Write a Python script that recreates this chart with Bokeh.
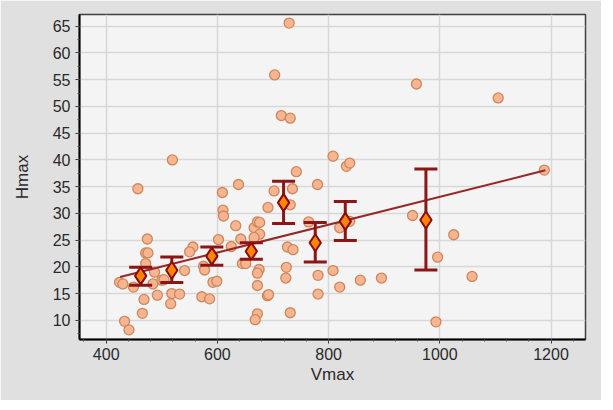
from bokeh.plotting import figure
from bokeh.models import Range1d, SingleIntervalTicker, ColumnDataSource
from bokeh.embed import file_html
from bokeh.resources import INLINE

# ---- data ----
vmax = [729, 703, 958, 1105, 715, 731, 808, 519, 832, 838, 742, 1188, 457, 638, 780,
        609, 702, 735, 731, 610, 611, 691, 951, 633, 666, 672, 676, 764, 820, 838,
        602, 642, 474, 676, 666, 1025, 471, 475, 556, 550, 625, 726, 736, 471, 487,
        541, 575, 577, 724, 675, 672, 808, 781, 996, 1058, 895, 857, 723, 592, 599,
        820, 672, 424, 430, 449, 484, 500, 504, 518, 532, 492, 468, 572, 586, 690,
        692, 781, 516, 731, 465, 672, 668, 993, 433, 441, 645, 651]
hmax = [65.6, 55.9, 54.2, 51.6, 48.3, 47.8, 40.7, 40.0, 38.8, 39.4, 37.8, 38.1, 34.6, 35.4, 35.4,
        33.9, 34.2, 34.6, 31.6, 30.6, 29.5, 31.1, 29.6, 27.7, 27.3, 28.4, 28.3, 28.4, 27.3, 28.5,
        25.1, 25.2, 25.2, 26.1, 25.5, 26.0, 22.6, 22.6, 23.7, 22.8, 23.8, 23.7, 23.2, 20.6, 19.0,
        19.3, 20.1, 19.4, 19.9, 19.5, 18.8, 19.3, 18.4, 21.8, 18.2, 17.9, 17.5, 17.9, 17.1, 17.3,
        16.2, 16.5, 17.1, 16.8, 16.2, 16.8, 17.5, 17.6, 15.0, 14.9, 14.7, 13.9, 14.4, 14.0, 14.6,
        14.8, 14.9, 13.1, 11.4, 11.3, 11.2, 10.1, 9.7, 9.8, 8.2, 20.6, 20.6]

grp_v = [462, 518, 590, 661, 719, 776, 830, 975]
grp_mean = [18.3, 19.35, 22.0, 22.9, 32.0, 24.5, 28.5, 28.75]
grp_upper = [19.9, 21.85, 23.7, 24.5, 36.0, 28.3, 32.2, 38.3]
grp_lower = [16.55, 17.05, 20.3, 21.4, 28.1, 20.9, 24.9, 19.4]

fit_v = [425, 1190]
fit_h = [18.1, 38.05]

# ---- figure ----
p = figure(width=601, height=400, output_backend="svg", toolbar_location=None,
           x_range=Range1d(352, 1262), y_range=Range1d(6.4, 67.2),
           min_border_left=79, min_border_right=16, min_border_top=14, min_border_bottom=61,
           x_axis_label="Vmax", y_axis_label="Hmax")

p.border_fill_color = "#e0e0e0"
p.background_fill_color = "#f4f4f4"
p.outline_line_color = "#404040"
p.outline_line_width = 1.5

p.xaxis.ticker = SingleIntervalTicker(interval=200, num_minor_ticks=5)
p.yaxis.ticker = SingleIntervalTicker(interval=5, num_minor_ticks=2)

for ax in (p.xaxis, p.yaxis):
    ax.axis_line_color = "black"
    ax.axis_line_width = 2
    ax.major_tick_line_color = "#333333"
    ax.minor_tick_line_color = "#555555"
    ax.major_tick_in = 0
    ax.major_tick_out = 4
    ax.minor_tick_in = 0
    ax.minor_tick_out = 2
    ax.major_label_text_font = "Liberation Sans"
    ax.major_label_text_font_size = "16px"
    ax.major_label_text_color = "#2a2a2a"
    ax.axis_label_text_font = "Liberation Sans"
    ax.axis_label_text_font_size = "17px"
    ax.axis_label_text_font_style = "normal"
    ax.axis_label_text_color = "#2a2a2a"

p.xaxis.major_label_standoff = 4
p.xaxis.axis_label_standoff = 2
p.yaxis.major_label_standoff = 5
p.yaxis.axis_label_standoff = 18

p.xgrid.grid_line_color = "#d8d8d8"
p.ygrid.grid_line_color = "#d8d8d8"
p.xgrid.grid_line_width = 1.5
p.ygrid.grid_line_width = 1.5

# scatter points
src = ColumnDataSource(dict(x=vmax, y=hmax))
p.scatter("x", "y", source=src, size=10, fill_color="#f9b58f",
          line_color="#cc875d", line_width=1.3)

# fitted line
p.line(fit_v, fit_h, line_color="#982626", line_width=2)

# error bars
gsrc = ColumnDataSource(dict(x=grp_v, m=grp_mean, up=grp_upper, lo=grp_lower))
p.segment(x0="x", y0="lo", x1="x", y1="up", source=gsrc,
          line_color="#8c1515", line_width=3)
p.scatter("x", "up", source=gsrc, marker="dash", size=23,
          line_color="#8c1515", line_width=3)
p.scatter("x", "lo", source=gsrc, marker="dash", size=23,
          line_color="#8c1515", line_width=3)

# means
p.scatter("x", "m", source=gsrc, marker="diamond", size=17,
          fill_color="#ff8400", line_color="#8b0a0a", line_width=2)

open("out.html", "w").write(file_html(p, INLINE))
